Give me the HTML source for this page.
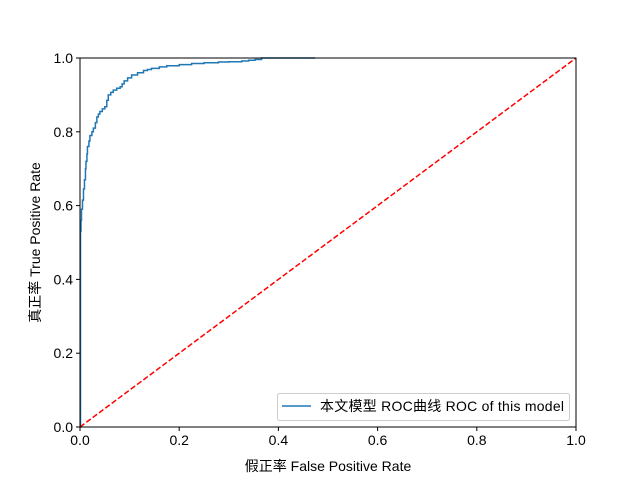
<!DOCTYPE html>
<html><head><meta charset="utf-8"><style>
body{margin:0;background:#fff}
svg text{font-family:"Liberation Sans","Noto Sans CJK SC",sans-serif;font-size:14px;fill:#000}
</style></head><body>
<svg width="640" height="480">
<g id="plot"></g>
</svg>
<script>
const fpr=[0,0.001,0.001,0.002,0.003,0.005,0.007,0.009,0.011,0.012,0.014,0.015,0.018,0.02,0.024,0.027,0.031,0.034,0.037,0.04,0.045,0.05,0.054,0.057,0.062,0.067,0.074,0.081,0.085,0.089,0.096,0.104,0.116,0.128,0.136,0.144,0.16,0.175,0.2,0.225,0.25,0.279,0.3,0.326,0.34,0.353,0.366,0.474];
const tpr=[0,0.40,0.53,0.56,0.59,0.615,0.645,0.67,0.70,0.72,0.74,0.76,0.775,0.79,0.80,0.81,0.825,0.84,0.848,0.855,0.862,0.868,0.885,0.90,0.907,0.913,0.918,0.922,0.93,0.938,0.946,0.954,0.96,0.966,0.969,0.972,0.976,0.979,0.982,0.985,0.987,0.989,0.99,0.992,0.994,0.996,1.0,1.0];
const ticks=[0,0.2,0.4,0.6,0.8,1.0];
const tickLabels=["0.0","0.2","0.4","0.6","0.8","1.0"];
const X0=80,X1=576,Y0=427,Y1=58;
const sx=v=>X0+v*(X1-X0), sy=v=>Y0-v*(Y0-Y1);
const NS="http://www.w3.org/2000/svg";
const g=document.getElementById('plot');
function mk(t,a,txt){const e=document.createElementNS(NS,t);for(const k in a)e.setAttribute(k,a[k]);if(txt!==undefined)e.textContent=txt;g.appendChild(e);return e;}
let d=`M${sx(fpr[0])},${sy(tpr[0])}`;
for(let i=1;i<fpr.length;i++){d+=` L${sx(fpr[i])},${sy(tpr[i-1])} L${sx(fpr[i])},${sy(tpr[i])}`;}
const c=mk('path',{d:d,fill:'none',stroke:'#1f77b4','stroke-width':1.5});


const dg=mk('line',{x1:sx(0),y1:sy(0),x2:sx(1),y2:sy(1),stroke:'#ff0000','stroke-width':1.5,'stroke-dasharray':'5.5,2.4'});


const fr=mk('rect',{x:X0,y:Y1,width:X1-X0,height:Y0-Y1,fill:'none',stroke:'#000','stroke-width':1});


ticks.forEach((t,i)=>{
 const a=mk('line',{x1:sx(t),x2:sx(t),y1:Y0,y2:Y0+4,stroke:'#000'});
 
 
 const b=mk('text',{x:sx(t),y:Y0+18,'text-anchor':'middle'},tickLabels[i]);
 
 
 const e=mk('line',{x1:X0-4,x2:X0,y1:sy(t),y2:sy(t),stroke:'#000'});
 
 
 const f=mk('text',{x:X0-7,y:sy(t)+5,'text-anchor':'end'},tickLabels[i]);
 
 
});
const xl=mk('text',{x:(X0+X1)/2,y:471,'text-anchor':'middle'},'假正率 False Positive Rate');


const yl=mk('text',{x:0,y:0,'text-anchor':'middle',transform:`translate(40,${(Y0+Y1)/2}) rotate(-90)`},'真正率 True Positive Rate');


const lb=mk('rect',{x:277.5,y:393.5,width:292,height:27,rx:2,fill:'#fff',stroke:'#ccc'});


const ll=mk('line',{x1:282,x2:311,y1:406,y2:406,stroke:'#1f77b4','stroke-width':1.5});


const lt=mk('text',{x:320,y:411,textLength:244},'本文模型 ROC曲线 ROC of this model');


</script>
</body></html>
